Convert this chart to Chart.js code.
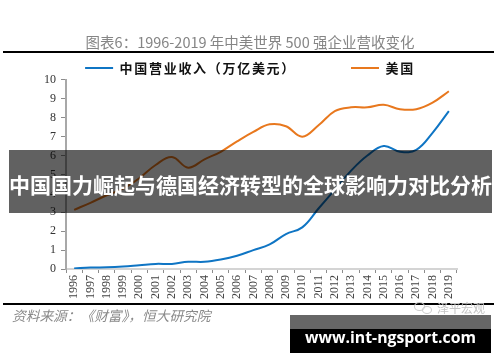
<!DOCTYPE html>
<html><head><meta charset="utf-8">
<script src="https://cdn.jsdelivr.net/npm/chart.js@4"></script>
<style>
html,body{margin:0;padding:0;background:#fff;width:500px;height:362px;overflow:hidden}
#wrap{position:relative;width:500px;height:362px}
canvas{position:absolute;left:0;top:0}
.o{position:absolute;white-space:nowrap}
</style></head><body>
<div id="wrap">
<canvas id="c" width="500" height="362"></canvas>
<div class="o" style="left:3px;top:51px;width:491px;height:2px;background:#000"></div>
<div class="o" style="left:3px;top:303px;width:491px;height:2px;background:#000"></div>
<div class="o" style="left:12px;top:305px;font:italic 13.7px/20px 'Noto Sans CJK SC';color:#8a8a8a">资料来源：《财富》，恒大研究院</div>
<div class="o" style="left:414px;top:302px;width:9px;height:7px;border:1px solid #ccc;border-radius:50%"></div>
<div class="o" style="left:422px;top:306px;width:8px;height:6px;border:1px solid #ccc;border-radius:50%"></div>
<div class="o" style="left:437px;top:299px;font:12px/18px 'Noto Sans CJK SC';color:#c4c4c4">泽平宏观</div>
<div class="o" style="left:9px;top:150px;width:483px;height:63px;background:rgba(0,0,0,.62)"></div>
<div class="o" style="left:9px;top:150px;width:483px;height:63px;text-align:center;color:#fff;font:bold 21px/68px 'Noto Sans CJK SC'">中国国力崛起与德国经济转型的全球影响力对比分析</div>
<div class="o" style="left:290px;top:315px;width:201px;height:14px;background:#666"></div>
<div class="o" style="left:290px;top:329px;width:201px;height:24px;background:#000;color:#fff;text-align:center;font:bold 15.8px/17px 'Open Sans'">www.int-ngsport.com</div>
</div>
<script>
const categories=['1996','1997','1998','1999','2000','2001','2002','2003','2004','2005','2006','2007','2008','2009','2010','2011','2012','2013','2014','2015','2016','2017','2018','2019'];
const chinaRevenue=[0.03,0.08,0.09,0.13,0.2,0.27,0.27,0.38,0.38,0.5,0.7,1.0,1.3,1.85,2.2,3.2,4.2,5.2,6.0,6.5,6.2,6.3,7.2,8.35];
const usRevenue=[3.13,3.5,3.9,4.25,4.8,5.5,5.92,5.36,5.8,6.2,6.75,7.25,7.65,7.55,7.0,7.6,8.35,8.55,8.55,8.68,8.45,8.45,8.8,9.4];
const seriesNames=['中国营业收入（万亿美元）','美国'];
const titleText='图表6：1996-2019 年中美世界 500 强企业营收变化';
const tickFont={family:"'Liberation Serif'",size:12};
const legendTweak={id:'legendTweak',beforeInit(chart){
  const lg=chart.legend,fit=lg.fit,draw=lg.draw,ctx=chart.ctx;
  lg.fit=function(){ctx.letterSpacing='1.7px';fit.call(this);ctx.letterSpacing='0px';this.height=73.5;};
  lg.draw=function(){ctx.letterSpacing='1.7px';draw.call(this);ctx.letterSpacing='0px';};
}};
new Chart(document.getElementById('c'),{
 type:'line',
 data:{labels:categories,datasets:[
  {label:seriesNames[0],data:chinaRevenue,borderColor:'#0f75c4',backgroundColor:'#0f75c4',borderWidth:2,pointRadius:0,tension:0.4},
  {label:seriesNames[1],data:usRevenue,borderColor:'#e8781e',backgroundColor:'#e8781e',borderWidth:2,pointRadius:0,tension:0.4}
 ]},
 plugins:[legendTweak],
 options:{
  responsive:false,animation:false,
  layout:{padding:{left:0,right:0,top:0,bottom:60}},
  plugins:{
   title:{display:true,text:titleText,color:'#858585',font:{family:"'Noto Sans CJK SC'",size:14.5,weight:'normal'},padding:{top:34,bottom:-45},align:'center',fullSize:true},
   legend:{display:true,position:'top',fullSize:true,labels:{boxWidth:28,boxHeight:0,padding:55,color:'#111',font:{family:"'Noto Sans CJK SC'",size:13,weight:'bold'}}},
   tooltip:{enabled:false}
  },
  scales:{
   x:{offset:true,
    grid:{drawOnChartArea:false,offset:true,tickLength:4,color:'#8c8c8c'},
    border:{color:'#d4d4d4',width:2},
    ticks:{minRotation:90,maxRotation:90,autoSkip:false,color:'#444',font:tickFont,padding:2},
    afterFit(s){s.height=33;}},
   y:{min:0,max:10,
    grid:{drawOnChartArea:false,tickLength:5,color:'#8c8c8c'},
    border:{color:'#a8a8a8',width:2},
    ticks:{stepSize:1,color:'#333',font:tickFont,padding:5},
    afterFit(s){s.width=66;}},
   rightGap:{position:'right',display:true,min:0,max:1,
    grid:{display:false},border:{display:false},ticks:{display:false},
    afterFit(s){s.width=43;}}
  }
 }
});
</script>
</body></html>
